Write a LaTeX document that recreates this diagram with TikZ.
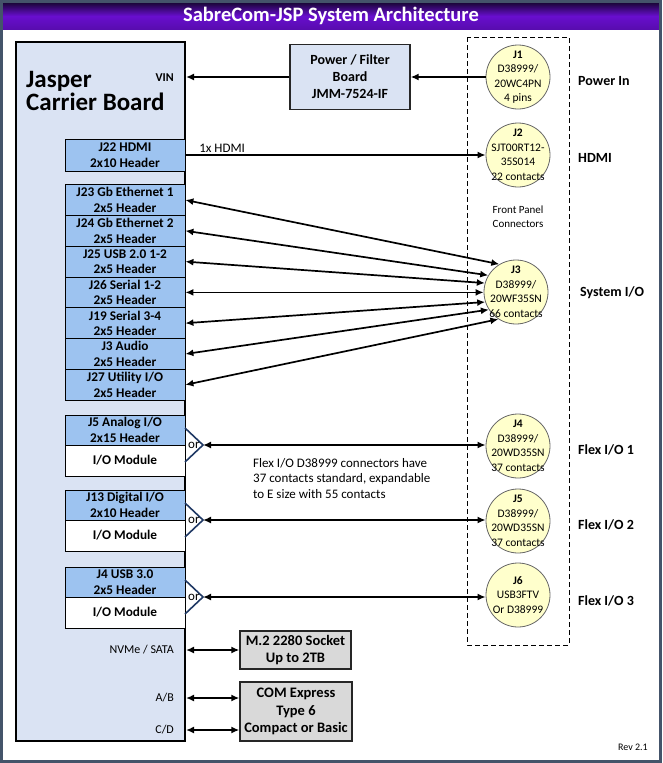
\documentclass[tikz,border=0pt]{standalone}
\usepackage{fontspec}
\setmainfont{Carlito}
\usepackage{tikz}
\usetikzlibrary{arrows.meta,positioning}
\usepackage{xcolor}
\definecolor{jspframe}{RGB}{68,84,106}
\definecolor{jsptitletop}{RGB}{28,6,60}
\definecolor{jsptitle}{RGB}{104,14,206}
\definecolor{jspboard}{RGB}{218,227,243}
\definecolor{jsphdr}{RGB}{157,195,240}
\definecolor{jspconn}{RGB}{255,255,204}
\definecolor{jspgray}{RGB}{217,217,217}
\definecolor{jspnavy}{RGB}{31,56,100}
\tikzstyle{arrow} = [line width=1.7pt,-{Latex[length=8pt,width=7pt]}]
\tikzstyle{darrow} = [line width=1.7pt,{Latex[length=8pt,width=7pt]}-{Latex[length=8pt,width=7pt]}]
\tikzstyle{board} = [rectangle, draw=black, line width=2pt, fill=jspboard, inner sep=0pt]
\tikzstyle{header} = [rectangle, draw=black, line width=0.8pt, fill=jsphdr, minimum width=120pt, minimum height=30.8pt, inner sep=0pt, align=center, font=\bfseries\fontsize{13.3}{15.5}\selectfont]
\tikzstyle{module} = [header, fill=white, minimum height=31pt]
\tikzstyle{conn} = [circle, draw=black!60, line width=0.8pt, fill=jspconn, minimum size=64pt, inner sep=-12pt, align=center, font=\fontsize{11.5}{14.5}\selectfont]
\tikzstyle{grayblock} = [rectangle, draw=black!85, line width=1.3pt, fill=jspgray, inner sep=0pt, align=center, font=\bfseries\fontsize{14.5}{17.5}\selectfont]
\tikzstyle{sidelabel} = [anchor=west, inner sep=0pt, font=\bfseries\fontsize{14}{16}\selectfont]
\tikzstyle{pinlabel} = [anchor=east, inner sep=0pt, font=\fontsize{12}{14}\selectfont]
\tikzstyle{orline} = [line width=1.6pt, draw=jspnavy]
\tikzstyle{ortext} = [anchor=west, inner sep=0pt, font=\fontsize{13}{14}\selectfont]

\begin{document}
\begin{tikzpicture}[x=1pt,y=-1pt]
\useasboundingbox (0,0) rectangle (662,763);
% Title bar and frame
\fill[top color=jsptitletop, bottom color=jsptitle!85!black, middle color=jsptitle] (3,3) rectangle (659,29);
\node[text=white, font=\bfseries\fontsize{20.5}{22}\selectfont] (title) at (331,16) {SabreCom-JSP System Architecture};
\draw[line width=3pt, jspframe] (1.5,1.5) rectangle (660.5,761.5);

% Carrier board
\node[board, minimum width=169pt, minimum height=699pt] (carrier) at (100.5,391.5) {};
\node[anchor=north west, inner sep=0pt, align=left, font=\bfseries\fontsize{25}{23}\selectfont] (cname) at (26,71) {Jasper\\Carrier Board};
\node[pinlabel, font=\bfseries\fontsize{12}{14}\selectfont] (vin) at (174,78) {VIN};

% Power / filter board
\node[grayblock, fill=jspboard, minimum width=120pt, minimum height=65pt, font=\bfseries\fontsize{14}{17}\selectfont] (pwr) at (350,77) {Power / Filter\\Board\\JMM-7524-IF};

% Front panel connectors
\draw[dashed, dash pattern=on 5pt off 3pt, line width=0.8pt] (467,37) rectangle (569,645);
\node[conn] (j1) at (518,77) {\textbf{J1}\\D38999/\\20WC4PN\\4 pins};
\node[conn] (j2) at (518,155) {\textbf{J2}\\SJT00RT12-\\35S014\\22 contacts};
\node[font=\fontsize{11}{14}\selectfont, align=center] (fp) at (518,217) {Front Panel\\Connectors};
\node[conn] (j3) at (516,292) {\textbf{J3}\\D38999/\\20WF35SN\\66 contacts};
\node[conn] (j4) at (518,446) {\textbf{J4}\\D38999/\\20WD35SN\\37 contacts};
\node[conn] (j5) at (518,521) {\textbf{J5}\\D38999/\\20WD35SN\\37 contacts};
\node[conn] (j6) at (518,595) {\textbf{J6}\\USB3FTV\\Or D38999};

\node[sidelabel] (lpwr) at (578,81) {Power In};
\node[sidelabel] (lhdmi) at (578,158) {HDMI};
\node[sidelabel] (lsys) at (580,293) {System I/O};
\node[sidelabel] (lflex1) at (578,450) {Flex I/O 1};
\node[sidelabel] (lflex2) at (578,525) {Flex I/O 2};
\node[sidelabel] (lflex3) at (578,601) {Flex I/O 3};

% Power path
\draw[arrow] (j1.west |- pwr.east) -- (pwr.east);
\draw[arrow] (pwr.west) -- (carrier.east |- pwr.west);

% HDMI
\node[header, minimum height=32pt] (j22) at (125,155) {J22 HDMI\\2x10 Header};
\draw[arrow] (j22.east) -- (j2.west) node[pos=0, anchor=south west, xshift=11pt, inner sep=2pt, font=\fontsize{13}{14}\selectfont] {1x HDMI};

% System I/O headers
\node[header] (j23) at (125,200) {J23 Gb Ethernet 1\\2x5 Header};
\node[header] (j24) at (125,230.8) {J24 Gb Ethernet 2\\2x5 Header};
\node[header] (j25) at (125,261.6) {J25 USB 2.0 1-2\\2x5 Header};
\node[header] (j26) at (125,292.4) {J26 Serial 1-2\\2x5 Header};
\node[header] (j19) at (125,323.2) {J19 Serial 3-4\\2x5 Header};
\node[header] (j3a) at (125,354) {J3 Audio\\2x5 Header};
\node[header] (j27) at (125,384.8) {J27 Utility I/O\\2x5 Header};

\draw[darrow] (j23.east) -- (j3.121);
\draw[darrow] (j24.east) -- (j3.149);
\draw[darrow] (j25.east) -- (j3.164);
\draw[darrow] (j26.east) -- (j3.west |- j26.east);
\draw[darrow] (j19.east) -- (j3.198);
\draw[darrow] (j3a.east) -- (j3.213);
\draw[darrow] (j27.east) -- (j3.237);

% Flex I/O 1
\node[header, minimum height=30pt] (j5a) at (125,430) {J5 Analog I/O\\2x15 Header};
\node[module] (m5) at (125,460.5) {I/O Module};
\coordinate (or1) at (203,445);
\draw[orline] (185,428) -- (or1) -- (185,462);
\node[ortext] (t1) at (188,445) {or};
\draw[darrow] (or1) -- (j4.west |- or1);

% Flex I/O 2
\node[header, minimum height=30pt] (j13) at (125,505) {J13 Digital I/O\\2x10 Header};
\node[module] (m13) at (125,535.5) {I/O Module};
\coordinate (or2) at (203,520);
\draw[orline] (185,503) -- (or2) -- (185,537);
\node[ortext] (t2) at (188,520) {or};
\draw[darrow] (or2) -- (j5.west |- or2);

% Flex I/O 3
\node[header, minimum height=30pt] (j4a) at (125,582) {J4 USB 3.0\\2x5 Header};
\node[module] (m4) at (125,612.5) {I/O Module};
\coordinate (or3) at (203,597);
\draw[orline] (185,580) -- (or3) -- (185,614);
\node[ortext] (t3) at (188,597) {or};
\draw[darrow] (or3) -- (j6.west |- or3);

\node[anchor=north west, inner sep=0pt, align=left, font=\fontsize{13}{15.5}\selectfont] (flexnote) at (253,458) {Flex I/O D38999 connectors have\\37 contacts standard, expandable\\to E size with 55 contacts};

% Storage and COM Express
\node[pinlabel] (nvme) at (174,650) {NVMe / SATA};
\node[grayblock, minimum width=111pt, minimum height=38pt] (m2) at (295.5,650) {M.2 2280 Socket\\Up to 2TB};
\draw[darrow] (carrier.east |- m2.west) -- (m2.west);

\node[pinlabel] (ab) at (174,698) {A/B};
\node[pinlabel] (cd) at (174,730) {C/D};
\node[grayblock, minimum width=112pt, minimum height=59pt] (com) at (296,711.5) {COM Express\\Type 6\\Compact or Basic};
\draw[darrow] (carrier.east |- ab) -- (com.west |- ab);
\draw[darrow] (carrier.east |- cd) -- (com.west |- cd);

\node[anchor=east, inner sep=0pt, font=\fontsize{10}{12}\selectfont] (rev) at (648,747) {Rev 2.1};
\end{tikzpicture}
\end{document}
